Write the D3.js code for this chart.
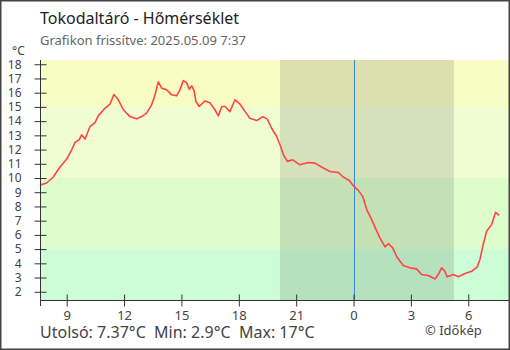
<!DOCTYPE html>
<html><head><meta charset="utf-8">
<script src="https://cdn.jsdelivr.net/npm/d3@7"></script>
<style>html,body{margin:0;padding:0;background:#fff}svg{display:block}text{font-family:"Noto Sans","Open Sans",sans-serif}</style>
</head><body><div id="chart"></div>
<script>
// hours since midnight of the previous day
const hours = [7.60,7.95,8.30,8.65,9.00,9.26,9.43,9.66,9.78,9.96,10.22,10.48,10.65,11.00,11.26,11.47,11.70,11.96,12.31,12.66,12.92,13.18,13.44,13.62,13.79,13.97,14.23,14.49,14.75,14.92,15.10,15.27,15.41,15.54,15.66,15.76,15.93,16.23,16.49,16.75,16.93,17.11,17.28,17.54,17.80,18.06,18.33,18.58,18.94,19.25,19.49,19.72,19.98,20.19,20.33,20.54,20.82,21.20,21.63,21.98,22.42,22.77,23.20,23.46,23.78,23.99,24.25,24.48,24.69,24.95,25.18,25.38,25.65,25.82,26.05,26.26,26.60,26.95,27.30,27.56,27.91,28.26,28.43,28.61,28.78,28.90,29.22,29.48,29.83,30.18,30.47,30.61,30.78,30.96,31.22,31.43,31.62];
const temps = [9.5,9.65,10.07,10.77,11.33,11.98,12.5,12.7,13.04,12.74,13.62,13.9,14.37,14.9,15.2,15.87,15.5,14.8,14.32,14.16,14.32,14.56,15.14,15.85,16.76,16.32,16.2,15.85,15.78,16.2,16.85,16.71,16.25,16.48,16.15,15.38,15.03,15.42,15.3,14.8,14.37,15.03,15.03,14.67,15.5,15.2,14.67,14.2,14.04,14.32,14.14,13.5,12.92,12.22,11.64,11.17,11.28,10.93,11.09,11.05,10.7,10.46,10.39,10.07,9.83,9.46,9.13,8.71,7.78,7.07,6.37,5.79,5.16,5.39,5.09,4.46,3.85,3.68,3.61,3.21,3.14,2.9,3.21,3.68,3.44,3.05,3.21,3.05,3.28,3.44,3.75,4.27,5.32,6.25,6.72,7.59,7.37];
const xTicks = [9,12,15,18,21,24,27,30];
const yTicks = [2,3,4,5,6,7,8,9,10,11,12,13,14,15,16,17,18];
const bandEdges = [18.3,15,10,5,1.42];
const bandColors = ["#f8fcc5","#f0fdd3","#ddfdcc","#ccfdd6"];
const night = [20.15,29.25];
const midnight = 24;
const title = "Tokodaltáró - Hőmérséklet";
const subtitle = "Grafikon frissítve: 2025.05.09 7:37";
const footer = "Utolsó: 7.37°C  Min: 2.9°C  Max: 17°C";
const credit = "© Időkép";

const W=510,H=350;
const svg=d3.select("#chart").append("svg").attr("width",W).attr("height",H);
const x=d3.scaleLinear().domain([7.604,32.13]).range([40,509]);
const y=d3.scaleLinear().domain([1.42,18.3]).range([300,60]);

// bands
for(let i=0;i<bandColors.length;i++){
  svg.append("rect").attr("x",x.range()[0]).attr("width",x.range()[1]-x.range()[0])
    .attr("y",y(bandEdges[i])).attr("height",y(bandEdges[i+1])-y(bandEdges[i]))
    .attr("fill",bandColors[i]);
}
// night
svg.append("rect").attr("x",x(night[0])).attr("width",x(night[1])-x(night[0]))
  .attr("y",y.range()[1]).attr("height",y.range()[0]-y.range()[1])
  .attr("fill","rgba(0,0,0,0.11)");
// midnight line
svg.append("line").attr("x1",Math.round(x(midnight))+0.5).attr("x2",Math.round(x(midnight))+0.5)
  .attr("y1",y.range()[1]).attr("y2",y.range()[0]).attr("stroke","#3b88c8").attr("stroke-width",1);

// line
svg.append("path").datum(hours.map((h,i)=>[h,temps[i]]))
  .attr("d",d3.line().x(d=>x(d[0])).y(d=>y(d[1])))
  .attr("fill","none").attr("stroke","#ff4444").attr("stroke-width",1.6).attr("stroke-linejoin","round");

// y axis
const ya=svg.append("g").attr("transform","translate(40.5,0)")
  .call(d3.axisLeft(y).tickValues(yTicks).tickSize(6).tickSizeOuter(0).tickPadding(5).tickFormat(d3.format("d")));
ya.select(".domain").attr("d",`M0,${y.range()[1]}V${y.range()[0]+6}`);
ya.selectAll(".tick line").attr("x1",-6).attr("x2",6);
ya.selectAll("path,line").attr("stroke","#333");
ya.selectAll("text").attr("fill","#444").style("font-size","12px").attr("x",-19);

// x axis
const xa=svg.append("g").attr("transform","translate(0,300.5)")
  .call(d3.axisBottom(x).tickValues(xTicks).tickSize(6).tickSizeOuter(0).tickPadding(4).tickFormat(d=>String(d%24)));
xa.select(".domain").attr("d",`M${x.range()[0]},0H${x.range()[1]}`);
xa.selectAll(".tick line").attr("y1",-6).attr("y2",6);
xa.selectAll("path,line").attr("stroke","#333");
xa.selectAll("text").attr("fill","#444").style("font-size","13px").attr("y",10);
// extra tick at left end
svg.append("line").attr("x1",40.5).attr("x2",40.5).attr("y1",300).attr("y2",306).attr("stroke","#333");

svg.append("text").attr("x",12).attr("y",55).text("°C").attr("fill","#444").style("font-size","12px");
svg.append("text").attr("x",40).attr("y",24).text(title).attr("fill","#222").style("font-size","16px");
svg.append("text").attr("x",40).attr("y",45).text(subtitle).attr("fill","#666").style("font-size","13px");
svg.append("text").attr("x",40).attr("y",338).text(footer).attr("fill","#444").style("font-size","16px").attr("xml:space","preserve");
svg.append("text").attr("x",425).attr("y",335).text(credit).attr("fill","#444").style("font-size","13px");

// frame
svg.append("rect").attr("x",0.75).attr("y",0.75).attr("width",W-1.5).attr("height",H-1.5)
  .attr("fill","none").attr("stroke","#444").attr("stroke-width",1.5);
</script></body></html>
